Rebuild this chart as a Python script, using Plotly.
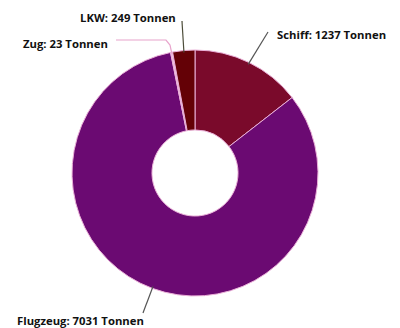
import math
import plotly.graph_objects as go

# Transported freight by mode of transport (tonnes)
modes = ["Schiff", "Flugzeug", "Zug", "LKW"]
tonnes = [1237, 7031, 23, 249]
colors = ["#7a0a2b", "#6b0a72", "#f2c4e2", "#640106"]

W, H = 400, 328
CX, CY, R = 195, 173, 123  # pie centre and radius in pixels

fig = go.Figure(go.Pie(
    labels=modes,
    values=tonnes,
    sort=False,
    direction="clockwise",
    rotation=0,
    hole=0.35,
    textinfo="none",
    hoverinfo="label+value",
    marker=dict(colors=colors, line=dict(color="#eab0d8", width=1)),
    domain=dict(x=[(CX - R) / W, (CX + R) / W],
                y=[(H - CY - R) / H, (H - CY + R) / H]),
    showlegend=False,
))


def px(x, y):
    return x / W, 1 - y / H


# mid-angle of each slice, measured clockwise from 12 o'clock
total = sum(tonnes)
mids = []
acc = 0
for v in tonnes:
    mids.append((acc + v / 2) / total * 2 * math.pi)
    acc += v


def edge(i, r=R):
    a = mids[i]
    return CX + r * math.sin(a), CY - r * math.cos(a)


# label text positions (pixel) and leader-line routing per slice
labels = [
    dict(text="Schiff: 1237 Tonnen", x=275, y=35, anchor="left",
         via=[(268, 32)], line="#555555"),
    dict(text="Flugzeug: 7031 Tonnen", x=15, y=320, anchor="left",
         via=[(143, 313)], line="#555555"),
    dict(text="Zug: 23 Tonnen", x=21, y=43, anchor="left",
         via=[(170, 45), (166, 40), (116, 40)], line="#e8a4cc"),
    dict(text="LKW: 249 Tonnen", x=78, y=17, anchor="left",
         via=[(182, 21)], line="#4d4d3a"),
]

shapes = []
annotations = []
for i, lab in enumerate(labels):
    pts = [edge(i, R - 2)] + lab["via"]
    path = "M " + " L ".join(f"{px(x, y)[0]:.4f},{px(x, y)[1]:.4f}" for x, y in pts)
    shapes.append(dict(type="path", xref="paper", yref="paper", path=path,
                       line=dict(color=lab["line"], width=1.2)))
    ax, ay = px(lab["x"], lab["y"])
    annotations.append(dict(
        text=f"<b>{lab['text']}</b>", x=ax, y=ay, xref="paper", yref="paper",
        xanchor=lab["anchor"], yanchor="middle", showarrow=False,
        font=dict(family="Open Sans, Liberation Sans, sans-serif", size=11.3, color="#111111"),
    ))

fig.update_layout(
    width=W, height=H,
    margin=dict(l=0, r=0, t=0, b=0),
    paper_bgcolor="white",
    plot_bgcolor="white",
    shapes=shapes,
    annotations=annotations,
)

fig.write_html("out.html")
